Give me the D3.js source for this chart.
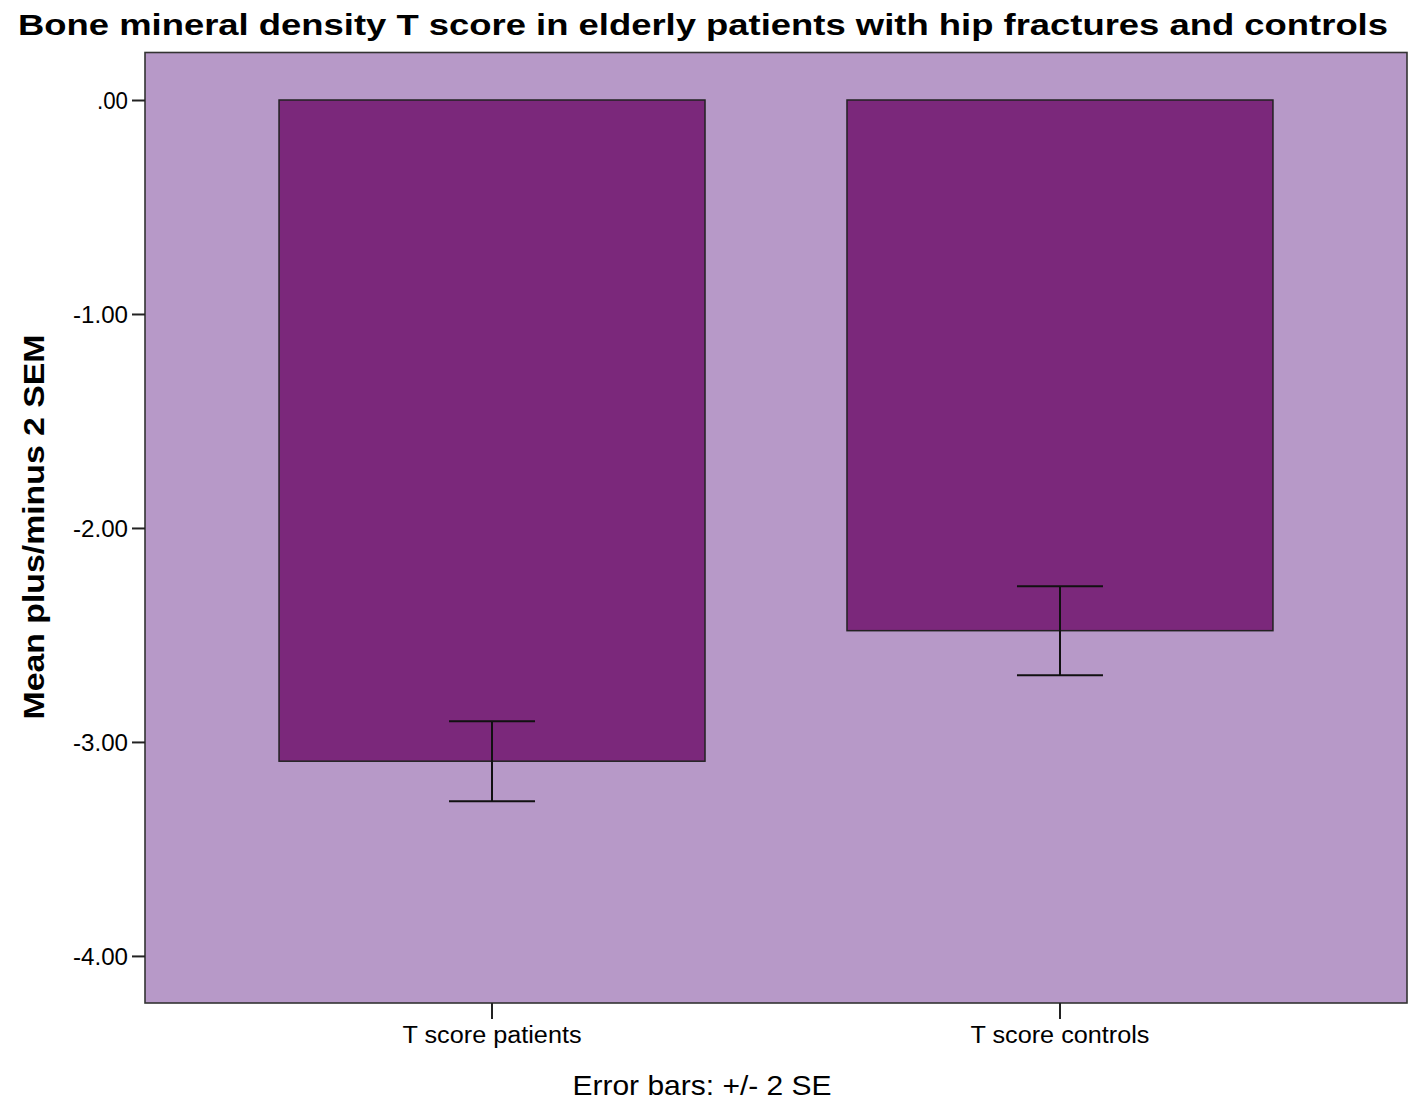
<!DOCTYPE html>
<html>
<head>
<meta charset="utf-8">
<script src="https://cdn.jsdelivr.net/npm/d3@7"></script>
<style>
  body { margin: 0; background: #fff; }
  text { font-family: "Liberation Sans", Arial, sans-serif; fill: #000; }
</style>
</head>
<body>
<div id="chart"></div>
<script>
// values
var categories = ["T score patients", "T score controls"];
var means = [-3.09, -2.48];
var twoSE = [0.187, 0.208];
var yTicks = [0, -1, -2, -3, -4];

var W = 1422, H = 1104;
var margin = {top: 52.5, right: 15, bottom: 101, left: 145};

var svg = d3.select("#chart").append("svg")
    .attr("width", W).attr("height", H);

var x = d3.scaleBand()
    .domain(categories)
    .range([margin.left, W - margin.right])
    .paddingInner(0.25)
    .paddingOuter(0.236);

var y = d3.scaleLinear()
    .domain([-4.22, 0.222])
    .range([H - margin.bottom, margin.top]);

// SPSS style: ".00", "-1.00" with a plain hyphen
var fmt = function(d) { return d.toFixed(2).replace(/^(-?)0\./, "$1."); };

// plot background
svg.append("rect")
    .attr("x", margin.left).attr("y", margin.top)
    .attr("width", W - margin.left - margin.right)
    .attr("height", H - margin.top - margin.bottom)
    .attr("fill", "#b799c8")
    .attr("stroke", "#333").attr("stroke-width", 1.6);

var rows = categories.map(function(c, i) { return {cat: c, mean: means[i], err: twoSE[i]}; });

// bars
svg.selectAll("rect.bar").data(rows).enter().append("rect")
    .attr("class", "bar")
    .attr("x", function(d) { return x(d.cat); })
    .attr("width", x.bandwidth())
    .attr("y", y(0))
    .attr("height", function(d) { return y(d.mean) - y(0); })
    .attr("fill", "#7b287b")
    .attr("stroke", "#222").attr("stroke-width", 1.5);

// error bars
var capW = 86;
var eb = svg.selectAll("g.err").data(rows).enter().append("g")
    .attr("class", "err")
    .attr("stroke", "#111").attr("stroke-width", 2);
eb.append("line")
    .attr("x1", function(d) { return x(d.cat) + x.bandwidth() / 2; })
    .attr("x2", function(d) { return x(d.cat) + x.bandwidth() / 2; })
    .attr("y1", function(d) { return y(d.mean + d.err); })
    .attr("y2", function(d) { return y(d.mean - d.err); });
[1, -1].forEach(function(s) {
  eb.append("line")
    .attr("x1", function(d) { return x(d.cat) + x.bandwidth() / 2 - capW / 2; })
    .attr("x2", function(d) { return x(d.cat) + x.bandwidth() / 2 + capW / 2; })
    .attr("y1", function(d) { return y(d.mean + s * d.err); })
    .attr("y2", function(d) { return y(d.mean + s * d.err); });
});

// y axis
var yAxis = svg.append("g")
    .attr("transform", "translate(" + margin.left + ",0)")
    .call(d3.axisLeft(y).tickValues(yTicks).tickFormat(fmt).tickSize(13).tickSizeOuter(0).tickPadding(4));
yAxis.select(".domain").remove();
yAxis.selectAll(".tick line").attr("stroke", "#222").attr("stroke-width", 2);
yAxis.selectAll(".tick text")
    .style("font-size", "23px").attr("dy", "0.38em")
    .attr("textLength", function(d) { return d == 0 ? 31 : 55; })
    .attr("lengthAdjust", "spacingAndGlyphs");

// x axis
var xAxis = svg.append("g")
    .attr("transform", "translate(0," + (H - margin.bottom) + ")")
    .call(d3.axisBottom(x).tickSize(16).tickSizeOuter(0).tickPadding(5));
xAxis.select(".domain").remove();
xAxis.selectAll(".tick line").attr("stroke", "#222").attr("stroke-width", 2);
xAxis.selectAll(".tick text")
    .style("font-size", "23px")
    .attr("y", 40).attr("dy", 0)
    .attr("textLength", 179)
    .attr("lengthAdjust", "spacingAndGlyphs");

// titles
svg.append("text")
    .attr("x", 703).attr("y", 35)
    .attr("text-anchor", "middle")
    .style("font-size", "30px").style("font-weight", "bold")
    .attr("textLength", 1370).attr("lengthAdjust", "spacingAndGlyphs")
    .text("Bone mineral density T score in elderly patients with hip fractures and controls");

svg.append("text")
    .attr("transform", "translate(44,527) rotate(-90)")
    .attr("text-anchor", "middle")
    .style("font-size", "30px").style("font-weight", "bold")
    .attr("textLength", 385).attr("lengthAdjust", "spacingAndGlyphs")
    .text("Mean plus/minus 2 SEM");

svg.append("text")
    .attr("x", 702).attr("y", 1095)
    .attr("text-anchor", "middle")
    .style("font-size", "28px")
    .attr("textLength", 259).attr("lengthAdjust", "spacingAndGlyphs")
    .text("Error bars:  +/- 2 SE");
</script>
</body>
</html>
